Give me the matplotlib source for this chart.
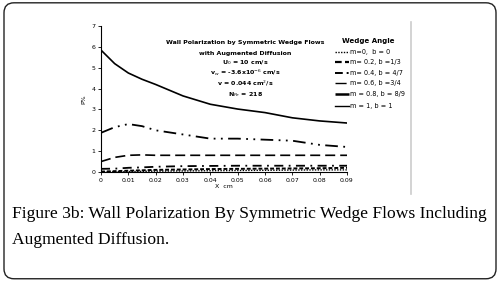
import numpy as np
import matplotlib.pyplot as plt
from matplotlib.patches import FancyBboxPatch
from matplotlib.lines import Line2D

# data
x = [0, 0.005, 0.01, 0.015, 0.02, 0.03, 0.04, 0.05, 0.06, 0.07, 0.08, 0.09]
p_m1 = [5.85, 5.2, 4.75, 4.45, 4.2, 3.65, 3.25, 3.02, 2.85, 2.6, 2.45, 2.35]
p_m08 = [1.88, 2.15, 2.3, 2.2, 2.0, 1.8, 1.6, 1.6, 1.55, 1.5, 1.3, 1.2]
p_m06 = [0.5, 0.7, 0.8, 0.82, 0.8, 0.8, 0.8, 0.8, 0.8, 0.8, 0.8, 0.8]
p_m04 = [0.15, 0.16, 0.2, 0.22, 0.25, 0.28, 0.29, 0.3, 0.3, 0.3, 0.3, 0.3]
p_m02 = [0.02, 0.04, 0.06, 0.08, 0.1, 0.12, 0.14, 0.15, 0.16, 0.17, 0.18, 0.2]
p_m0 = [0.0, 0.01, 0.02, 0.03, 0.04, 0.05, 0.06, 0.07, 0.08, 0.09, 0.1, 0.1]

labels = ['m=0,  b = 0', 'm= 0.2, b =1/3', 'm= 0.4, b = 4/7',
          'm= 0.6, b =3/4', 'm = 0.8, b = 8/9', 'm = 1, b = 1']
series = [p_m0, p_m02, p_m04, p_m06, p_m08, p_m1]
styles = [
    dict(ls=(0, (1, 1)), lw=1.0),
    dict(ls=(0, (3, 1.5)), lw=1.6),
    dict(ls=(0, (4, 2, 1, 2, 1, 2)), lw=1.4),
    dict(ls=(0, (8, 4)), lw=1.0),
    dict(ls=(0, (6, 2, 1, 2)), lw=1.8),
    dict(ls='-', lw=1.0),
]
styles_plot = [
    dict(ls=(0, (1, 1)), lw=1.0),
    dict(ls=(0, (2, 1)), lw=1.4),
    dict(ls=(0, (5, 3, 1, 3)), lw=1.3),
    dict(ls=(0, (6, 3)), lw=1.2),
    dict(ls=(0, (7, 3, 1, 3, 1, 3)), lw=1.3),
    dict(ls='-', lw=1.2),
]

fig = plt.figure(figsize=(5, 2.81), dpi=100)

# rounded frame
frame = FancyBboxPatch((0.008, 0.008), 0.984, 0.982,
                       boxstyle='round,pad=0,rounding_size=0.02',
                       transform=fig.transFigure, fill=False,
                       ec='#222222', lw=1.0, mutation_aspect=500 / 281)
fig.patches.append(frame)

# gray separator line
fig.add_artist(Line2D([0.821, 0.821], [0.31, 0.92], color='#cccccc',
                      lw=1.2, transform=fig.transFigure))

ax = fig.add_axes([0.202, 0.388, 0.492, 0.519])
for y, st in zip(series, styles_plot):
    ax.plot(x, y, color='black', **st)

ax.set_xlim(0, 0.09)
ax.set_ylim(0, 7)
ax.set_xticks(np.arange(0, 0.091, 0.01))
ax.set_xticklabels(['0', '0.01', '0.02', '0.03', '0.04', '0.05',
                    '0.06', '0.07', '0.08', '0.09'])
ax.set_yticks(range(0, 8))
ax.tick_params(labelsize=4.5, length=2, width=0.6, pad=2)
for s in ['top', 'right']:
    ax.spines[s].set_visible(False)
for s in ['left', 'bottom']:
    ax.spines[s].set_linewidth(0.8)
ax.set_xlabel('X  cm', fontsize=4.5, labelpad=1)
ax.set_ylabel('P%', fontsize=4.5, labelpad=4)

# annotation block
notes = ['Wall Polarization by Symmetric Wedge Flows',
         'with Augmented Diffusion',
         'U$_0$ = 10 cm/s',
         'v$_w$ = -3.6x10$^{-6}$ cm/s',
         'v = 0.044 cm$^2$/s',
         'N$_{Pe}$ = 218']
ny = [0.847, 0.811, 0.776, 0.740, 0.705, 0.665]
for t, yy in zip(notes, ny):
    fig.text(0.49, yy, t, ha='center', va='center', fontsize=4.5,
             fontweight='bold')

# legend
fig.text(0.684, 0.854, 'Wedge Angle', fontsize=5, fontweight='bold',
         ha='left', va='center')
ly = [0.815, 0.779, 0.740, 0.705, 0.665, 0.623]
for lab, st, yy in zip(labels, styles, ly):
    fig.add_artist(Line2D([0.67, 0.698], [yy, yy], color='black',
                          transform=fig.transFigure, **st))
    fig.text(0.701, yy, lab, fontsize=4.7, ha='left', va='center')

# caption
fig.text(0.024, 0.24, 'Figure 3b: Wall Polarization By Symmetric Wedge Flows Including',
         fontsize=12.6, family='Liberation Serif', ha='left', va='center')
fig.text(0.024, 0.145, 'Augmented Diffusion.', fontsize=12.6,
         family='Liberation Serif', ha='left', va='center')

fig.savefig('out.png', dpi=100)
